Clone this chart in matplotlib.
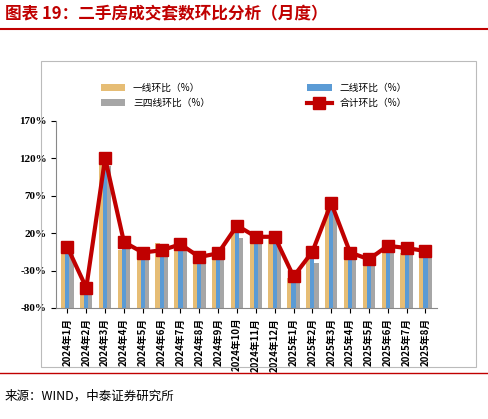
import matplotlib.pyplot as plt
import numpy as np

plt.rcParams['font.family'] = ['Noto Sans CJK SC', 'DejaVu Sans']

months = ['2024年1月', '2024年2月', '2024年3月', '2024年4月', '2024年5月', '2024年6月', '2024年7月',
          '2024年8月', '2024年9月', '2024年10月', '2024年11月', '2024年12月', '2025年1月', '2025年2月',
          '2025年3月', '2025年4月', '2025年5月', '2025年6月', '2025年7月', '2025年8月']
tier1 = [-2, -55, 113, -3, -6, 7, -2, -15, -8, 38, 12, 12, -40, -15, 55, -10, -18, -2, -6, -2]
tier2 = [-2, -53, 105, 0, -8, -6, -2, -15, -10, 25, 10, 8, -40, -10, 55, -8, -18, -3, -5, -6]
tier34 = [-2, -55, 110, 0, -8, -8, -2, -16, -7, 14, 10, 10, -38, -20, 46, -8, -15, -2, 3, -8]
total = [1, -53, 120, 8, -6, -3, 5, -12, -7, 30, 15, 15, -38, -5, 60, -6, -15, 3, 0, -4]

fig = plt.figure(figsize=(4.88, 4.19), dpi=100)
fig.text(0.01, 0.965, '图表 19：二手房成交套数环比分析（月度）', color='#c00000', fontsize=12,
         fontweight='bold', style='italic', va='center')
fig.add_artist(plt.Line2D([0.0, 1.0], [0.93, 0.93], color='#c00000', lw=1.5))
fig.add_artist(plt.Line2D([0.0, 1.0], [0.11, 0.11], color='#c00000', lw=1))
fig.add_artist(plt.Rectangle((0.085, 0.125), 0.89, 0.73, fill=False, ec='#bbbbbb', lw=0.8))
fig.text(0.01, 0.055, '来源：WIND，中泰证券研究所', fontsize=9, va='center')

ax = fig.add_axes([0.115, 0.265, 0.78, 0.447])
x = np.arange(len(months))
w = 0.22
base = -80
ax.bar(x - w, np.array(tier1) - base, w, bottom=base, color='#e6bd75', label='一线环比（%）')
ax.bar(x, np.array(tier2) - base, w, bottom=base, color='#5b9bd5', label='二线环比（%）')
ax.bar(x + w, np.array(tier34) - base, w, bottom=base, color='#a6a6a6', label='三四线环比（%）')
ax.plot(x, total, color='#c00000', lw=3, marker='s', ms=8, label='合计环比（%）')

ax.set_ylim(-80, 170)
ax.set_yticks(range(-80, 171, 50))
ax.set_yticklabels([f'{v}%' for v in range(-80, 171, 50)], fontsize=8, fontweight='bold',
                   family='Liberation Serif')
ax.set_xlim(-0.6, len(months) - 0.4)
ax.set_xticks(x)
ax.set_xticklabels(months, rotation=90, fontsize=7, fontweight='bold')
for s in ['top', 'right']:
    ax.spines[s].set_visible(False)
ax.spines['left'].set_color('#888888')
ax.spines['bottom'].set_color('#888888')

h, l = ax.get_legend_handles_labels()
order = [1, 3, 2, 0]
fig.legend([h[i] for i in order], [l[i] for i in order], ncol=2, frameon=False, fontsize=7,
           loc='center', bbox_to_anchor=(0.52, 0.772), columnspacing=10, handlelength=2.5)

fig.savefig('out.png')
